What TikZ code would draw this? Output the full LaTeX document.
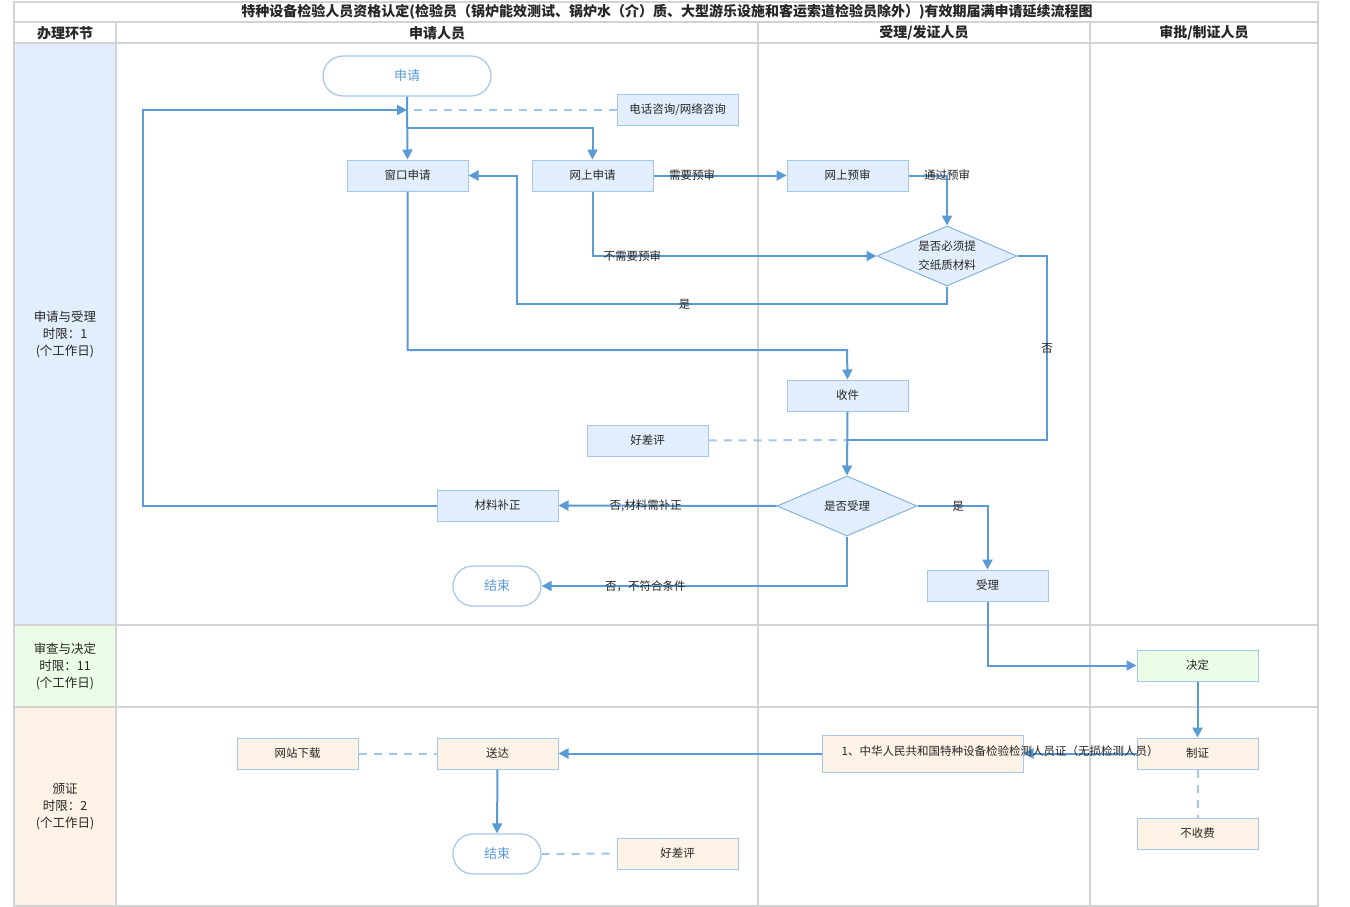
\documentclass[tikz,border=0pt]{standalone}
\usepackage{fontspec}
\setmainfont{Noto Sans CJK SC}
\usetikzlibrary{arrows.meta,shapes.geometric,calc}
\definecolor{lineblue}{HTML}{5B9BD5}
\definecolor{boxborder}{HTML}{A3C6EC}
\definecolor{fillblue}{HTML}{E3EEFC}
\definecolor{fillgreen}{HTML}{EBFDE6}
\definecolor{fillorange}{HTML}{FDF2E6}
\definecolor{gridgray}{HTML}{D3D3D3}
\definecolor{txt}{HTML}{262626}
\newcommand{\fsbody}{\fontsize{11.5pt}{14pt}\selectfont}
\tikzset{
  proc/.style={rectangle, draw=boxborder, fill=fillblue, line width=1pt, minimum width=121pt, minimum height=31pt, inner sep=0pt, font=\fsbody, text=txt},
  term/.style={rectangle, rounded corners=20pt, draw=boxborder, fill=white, line width=1.2pt, minimum height=40pt, inner sep=0pt, font=\fontsize{13pt}{15pt}\selectfont, text=lineblue},
  dec/.style={diamond, aspect=2.33, draw=lineblue!75, fill=fillblue, line width=1pt, minimum width=140pt, minimum height=60pt, inner sep=0pt, font=\fontsize{11.5pt}{19pt}\selectfont, text=txt, align=center},
  conn/.style={draw=lineblue, line width=2pt},
  flow/.style={conn, -{Triangle[length=10pt,width=10pt]}},
  dashline/.style={draw=boxborder, line width=2pt, dash pattern=on 8pt off 7pt},
  lbl/.style={font=\fsbody, text=txt, inner sep=1pt},
  grid/.style={draw=gridgray, line width=1.8pt},
  head/.style={font=\fontsize{14pt}{16pt}\selectfont\bfseries, text=black!85},
  lane/.style={font=\fontsize{12.5pt}{17pt}\selectfont, text=txt, align=center}
}
\begin{document}
\begin{tikzpicture}[x=1pt,y=-1pt]
\useasboundingbox (0,0) rectangle (1350,907);
\fill[white] (0,0) rectangle (1350,907);
% lane fills
\fill[fillblue] (14,43) rectangle (116,625);
\fill[fillgreen] (14,625) rectangle (116,707);
\fill[fillorange] (14,707) rectangle (116,906);
% grid
\draw[grid] (14,2) rectangle (1318,906);
\draw[grid] (14,22) -- (1318,22);
\draw[grid] (14,43) -- (1318,43);
\draw[grid] (14,625) -- (1318,625);
\draw[grid] (14,707) -- (1318,707);
\draw[grid] (116,22) -- (116,906);
\draw[grid] (758,22) -- (758,906);
\draw[grid] (1090,22) -- (1090,906);
% headers
\node[head] (title) at (667,12) {特种设备检验人员资格认定(检验员（锅炉能效测试、锅炉水（介）质、大型游乐设施和客运索道检验员除外）)有效期届满申请延续流程图};
\node[head] (h1) at (65,33) {办理环节};
\node[head] (h2) at (437,33) {申请人员};
\node[head] (h3) at (924,33) {受理/发证人员};
\node[head] (h4) at (1204,33) {审批/制证人员};
\node[lane] (l1) at (65,334) {申请与受理\\时限：1\\(个工作日)};
\node[lane] (l2) at (65,666) {审查与决定\\时限：11\\(个工作日)};
\node[lane] (l3) at (65,807) {颁证\\时限：2\\(个工作日)};
% nodes
\node[term, minimum width=168pt] (apply) at (407,76) {申请};
\node[proc] (consult) at (677.5,110) {电话咨询/网络咨询};
\node[proc] (window) at (407.5,175.5) {窗口申请};
\node[proc] (online) at (592.5,175.5) {网上申请};
\node[proc] (prerev) at (847.5,175.5) {网上预审};
\node[dec] (dec1) at (947,256) {是否必须提\\交纸质材料};
\node[proc] (receive) at (847.5,395.5) {收件};
\node[proc] (review1) at (647.5,440.5) {好差评};
\node[dec] (dec2) at (847,506) {是否受理};
\node[proc] (fix) at (497.5,505.5) {材料补正};
\node[term, minimum width=88pt] (end1) at (497,586) {结束};
\node[proc] (accept) at (987.5,585.5) {受理};
\node[proc, fill=fillgreen] (decide) at (1197.5,665.5) {决定};
\node[proc, fill=fillorange] (make) at (1197.5,753.5) {制证};
\node[proc, fill=fillorange] (nofee) at (1197.5,833.5) {不收费};
\node[proc, fill=fillorange, minimum width=201pt, minimum height=37pt] (cert) at (922.5,753.5) {};
\node[proc, fill=fillorange] (deliver) at (497.5,753.5) {送达};
\node[proc, fill=fillorange] (download) at (297.5,753.5) {网站下载};
\node[term, minimum width=88pt] (end2) at (497,854) {结束};
\node[proc, fill=fillorange] (review2) at (677.5,853.5) {好差评};
\coordinate (j1) at (407,110);
\coordinate (b1) at (407,128);
\coordinate (j2) at (847,440);
% connectors
\draw[dashline] (consult.west) -- (j1);
\draw[flow] (apply.south) -- (window.north);
\draw[conn] (b1) -| ($(online.north)+(0,-8)$);
\draw[flow] ($(online.north)+(0,-9)$) -- (online.north);
\draw[flow] (online.east) -- node[lbl, pos=0.29] {需要预审} (prerev.west);
\draw[flow] (prerev.east) -| node[lbl] {通过预审} (dec1.north);
\draw[flow] (online.south) |- node[lbl, pos=0.57] {不需要预审} (dec1.west);
\draw[flow] (dec1.south) -- (947,304) -- node[lbl, pos=0.61] {是} (517,304) -- (517,175.5) -- (window.east);
\draw[conn] (dec1.east) -- (1047,256) -- node[lbl] {否} (1047,440) -- (j2);
\draw[flow] (window.south) |- (847,350) -- (receive.north);
\draw[dashline] (review1.east) -- (j2);
\draw[flow] (receive.south) -- (dec2.north);
\draw[flow] (dec2.west) -- node[lbl, pos=0.6] {否,材料需补正} (fix.east);
\draw[flow] (fix.west) -- (143,505.5) -- (143,110) -- (j1);
\draw[flow] (dec2.south) |- node[lbl, pos=0.83] {否，不符合条件} (end1.east);
\draw[flow] (dec2.east) -| node[lbl, pos=0.29] {是} (accept.north);
\draw[flow] (accept.south) |- (decide.west);
\draw[flow] (decide.south) -- (make.north);
\draw[flow] (make.west) -- (cert.east);
\draw[flow] (cert.west) -- (deliver.east);
\draw[dashline] (download.east) -- (deliver.west);
\draw[flow] (deliver.south) -- (end2.north);
\draw[dashline] (end2.east) -- (review2.west);
\draw[dashline] (make.south) -- (nofee.north);
\node[lbl, anchor=west] (certtext) at ($(cert.west)+(19,-2)$) {1、中华人民共和国特种设备检验检测人员证（无损检测人员）};
\end{tikzpicture}
\end{document}
